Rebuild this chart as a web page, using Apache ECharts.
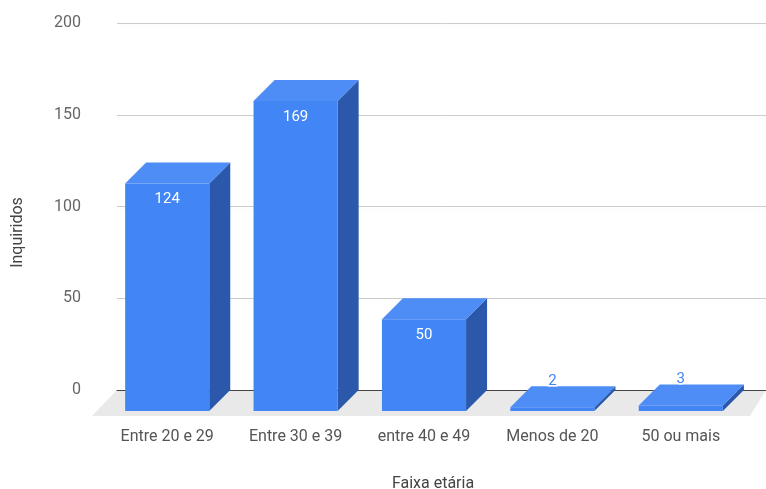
<!DOCTYPE html>
<html>
<head>
<meta charset="utf-8">
<script src="https://cdn.jsdelivr.net/npm/echarts@6/dist/echarts.min.js"></script>
<style>html,body{margin:0;padding:0;background:#fff}#c{width:766px;height:489px}</style>
</head>
<body>
<div id="c"></div>
<script>
const categories = ['Entre 20 e 29', 'Entre 30 e 39', 'entre 40 e 49', 'Menos de 20', '50 ou mais'];
const values = [124, 169, 50, 2, 3];
const yTicks = [0, 50, 100, 150, 200];

const FONT = 'Roboto, "Noto Sans", sans-serif';
const DX = 21, DY = 21; // 3D depth offset (front -> back)
const FRONT = '#4285f4', TOP = '#4d8df5', SIDE = '#2b58aa';

const chart = echarts.init(document.getElementById('c'), null, {renderer: 'canvas'});

function renderBar(params, api) {
  const i = api.value(0), v = api.value(1);
  const top = api.coord([i, v]);
  const base = api.coord([i, 0]);
  const bw = api.size([1, 0])[0] * 0.655;
  const x0 = top[0] - bw / 2, x1 = top[0] + bw / 2;
  const yT = top[1], yB = base[1];
  const children = [
    {type: 'polygon', shape: {points: [[x1, yT], [x1 + DX, yT - DY], [x1 + DX, yB - DY], [x1, yB]]}, style: {fill: SIDE}},
    {type: 'polygon', shape: {points: [[x0, yT], [x0 + DX, yT - DY], [x1 + DX, yT - DY], [x1, yT]]}, style: {fill: TOP}},
    {type: 'rect', shape: {x: x0, y: yT, width: bw, height: yB - yT}, style: {fill: FRONT}}
  ];
  const inside = (yB - yT) > 30;
  children.push({
    type: 'text',
    z2: 10,
    style: inside ? {
      text: String(v), x: top[0], y: yT + 16, align: 'center', verticalAlign: 'middle',
      fill: '#ffffff', font: '15px ' + FONT
    } : {
      text: String(v), x: top[0], y: yT - DY - 5, align: 'center', verticalAlign: 'middle',
      fill: FRONT, font: '15px ' + FONT, stroke: '#ffffff', lineWidth: 3
    }
  });
  return {type: 'group', children};
}

function renderFloor(params, api) {
  const cs = params.coordSys;
  const yb = cs.y + cs.height;
  return {
    type: 'polygon',
    shape: {points: [
      [cs.x + DX - 7, yb - DY], [cs.x + cs.width + DX, yb - DY],
      [cs.x + cs.width + 5, yb + 5], [cs.x - 11, yb + 5]
    ]},
    style: {fill: '#e9e9e9'}
  };
}

chart.setOption({
  backgroundColor: '#ffffff',
  animation: false,
  textStyle: {fontFamily: FONT},
  grid: [
    {left: 103, right: 21, top: 44, bottom: 78, outerBoundsMode: 'none', containLabel: false},   // front plane
    {left: 117, right: 0, top: 23, bottom: 99, outerBoundsMode: 'none', containLabel: false}     // back plane
  ],
  xAxis: [
    {
      gridIndex: 0, type: 'category', data: categories,
      axisLine: {show: false}, axisTick: {show: false},
      axisLabel: {color: '#555', fontSize: 16, margin: 18, fontFamily: FONT},
      name: 'Faixa etária', nameLocation: 'middle', nameGap: 65,
      nameTextStyle: {color: '#444', fontSize: 16, fontFamily: FONT, padding: [0, 0, 0, 18]}
    },
    {
      gridIndex: 1, type: 'value', min: 0, max: 1, z: 3,
      axisLine: {show: true, lineStyle: {color: '#444', width: 1}},
      axisTick: {show: false}, axisLabel: {show: false}, splitLine: {show: false}
    }
  ],
  yAxis: [
    {
      gridIndex: 0, type: 'value', min: 0, max: 200, interval: 50,
      axisLine: {show: false}, axisTick: {show: false}, axisLabel: {show: false}, splitLine: {show: false},
      name: 'Inquiridos', nameLocation: 'middle', nameGap: 77,
      nameTextStyle: {color: '#444', fontSize: 16, fontFamily: FONT, padding: [0, 10, 0, 0]}
    },
    {
      gridIndex: 1, type: 'value', min: yTicks[0], max: yTicks[yTicks.length - 1], interval: 50,
      axisLine: {show: false}, axisTick: {show: false},
      axisLabel: {color: '#666', fontSize: 16, margin: 36, fontFamily: FONT},
      splitLine: {show: true, lineStyle: {color: '#cccccc', width: 1, shadowColor: 'rgba(0,0,0,0.06)', shadowBlur: 4, shadowOffsetY: 3}}
    }
  ],
  series: [
    {
      type: 'custom', xAxisIndex: 0, yAxisIndex: 0, z: 1,
      renderItem: renderFloor, data: [[0, 0]], silent: true
    },
    {
      type: 'custom', xAxisIndex: 0, yAxisIndex: 0, z: 5,
      renderItem: renderBar,
      data: values.map((v, i) => [i, v])
    }
  ]
});
</script>
</body>
</html>
